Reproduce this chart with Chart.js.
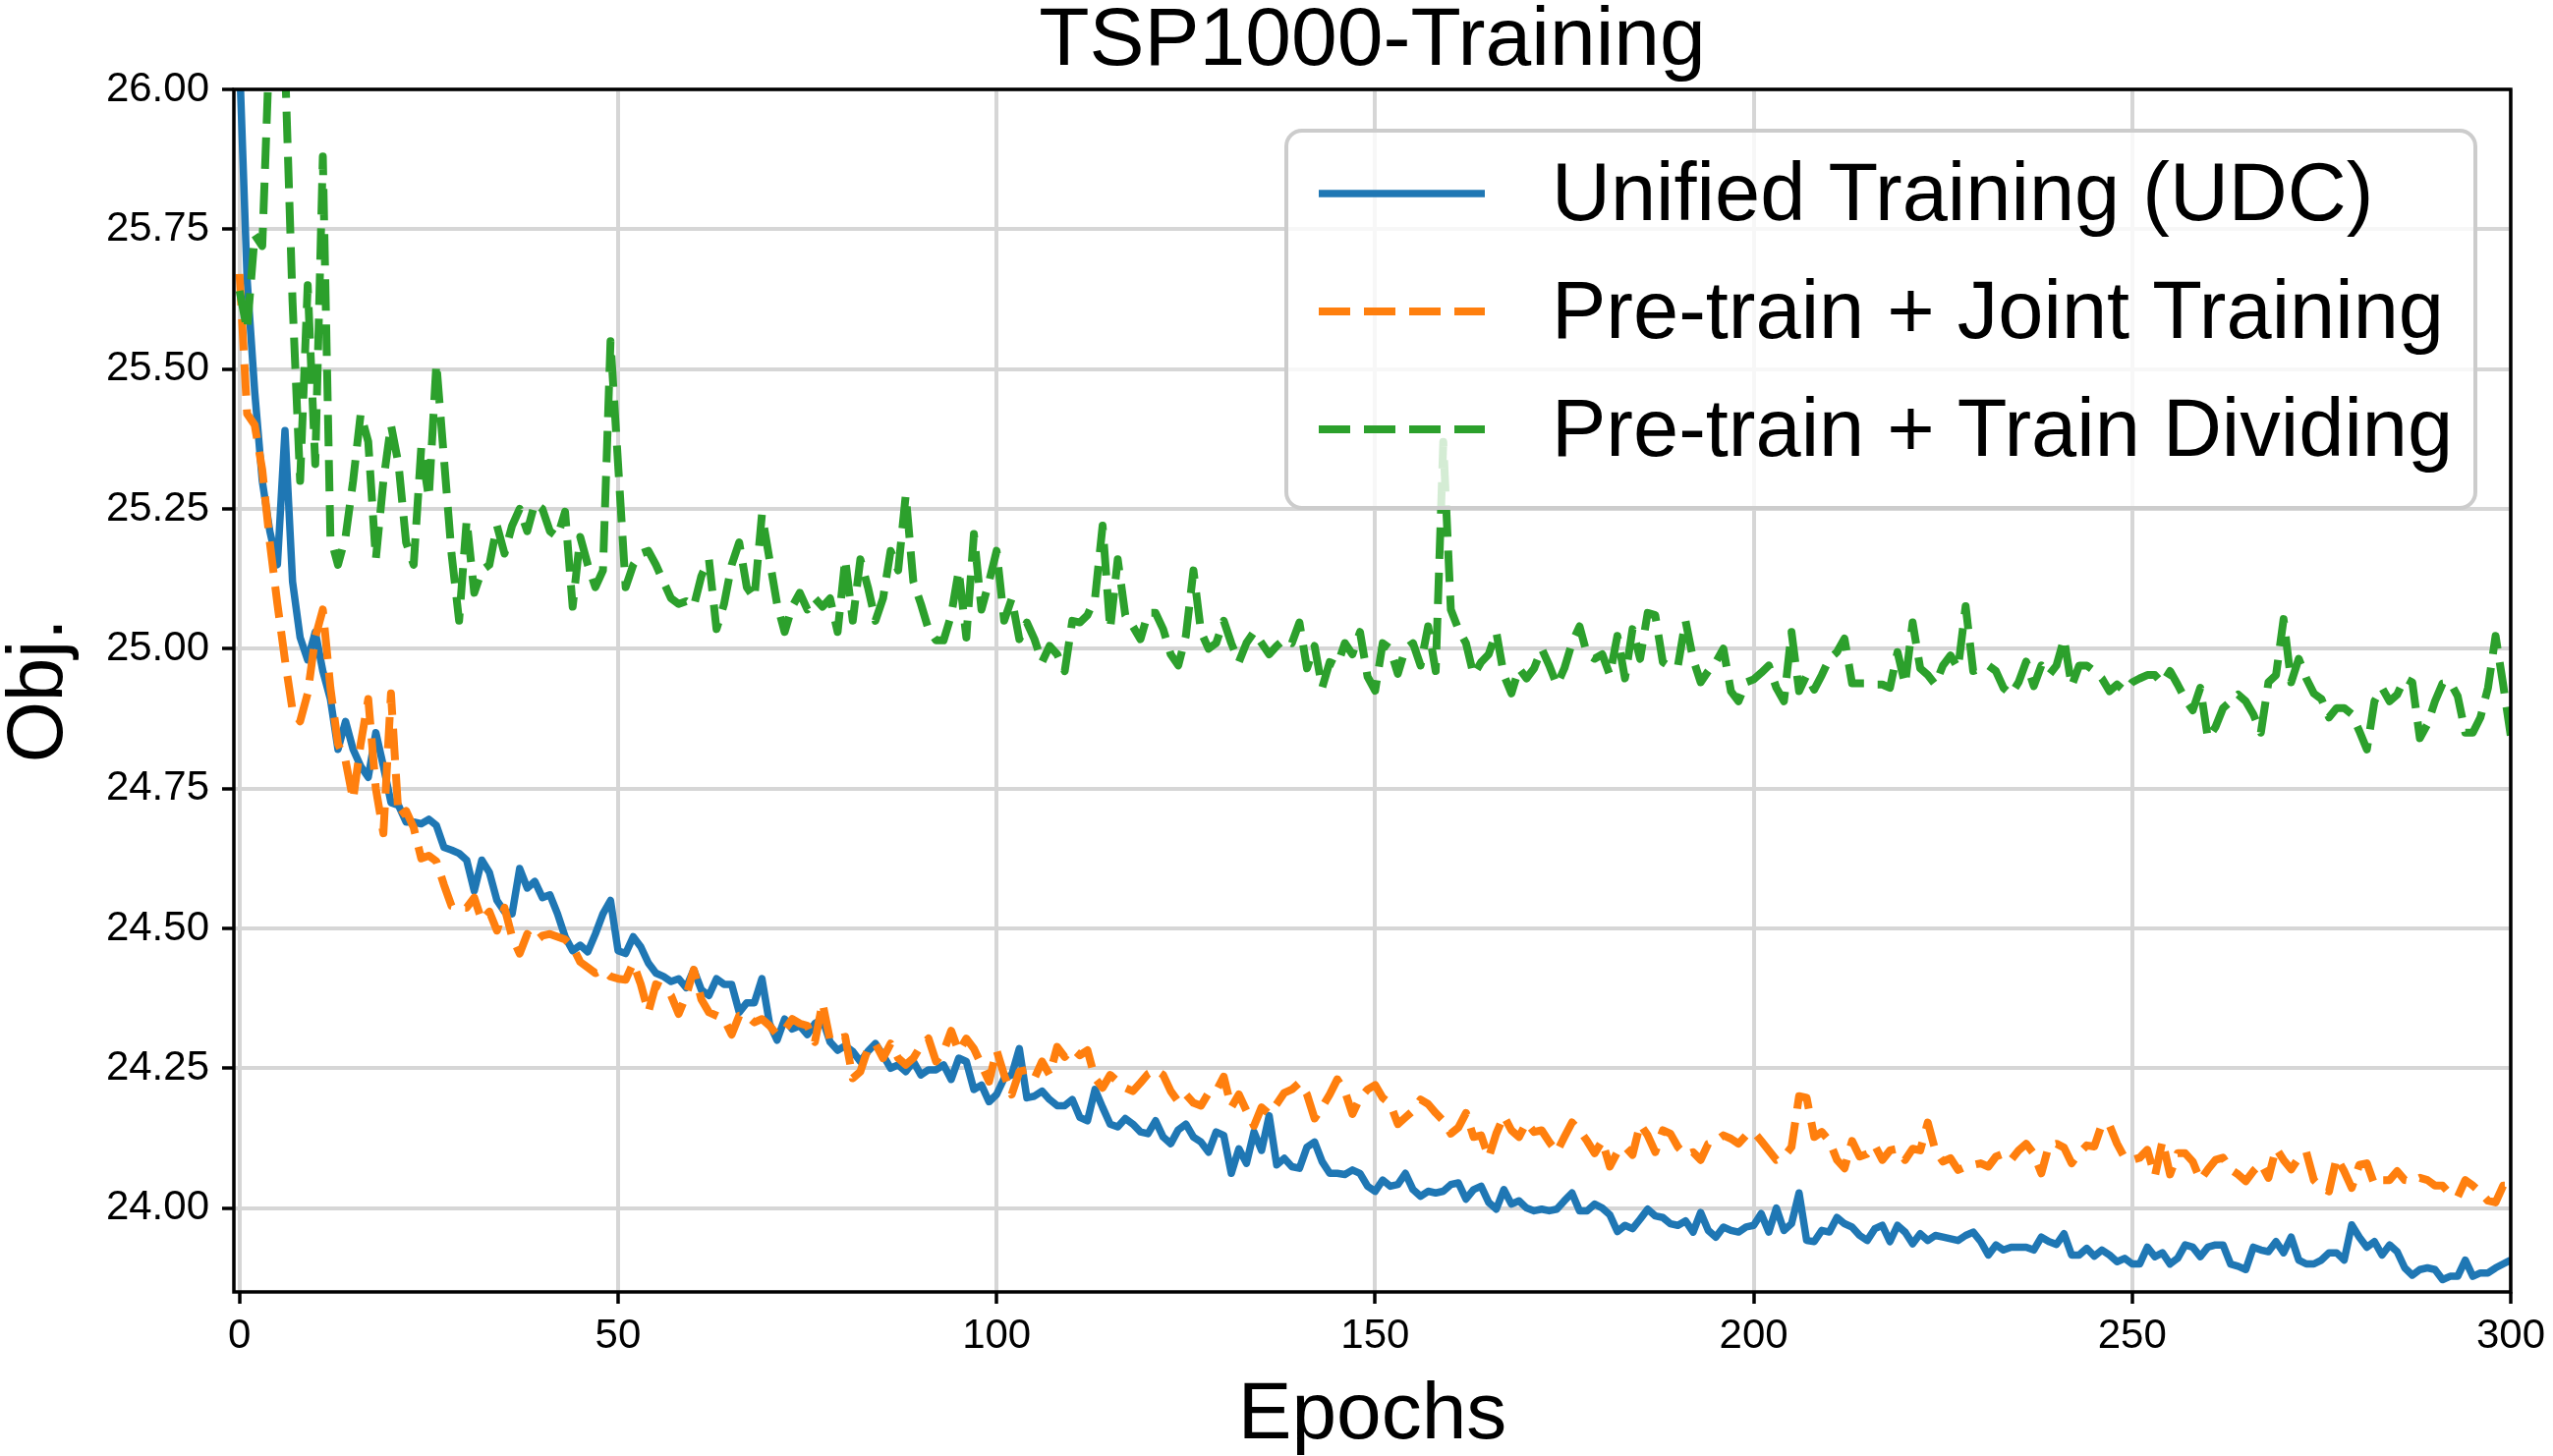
<!DOCTYPE html>
<html>
<head>
<meta charset="utf-8">
<script src="https://cdn.jsdelivr.net/npm/chart.js@4.4.1/dist/chart.umd.min.js"></script>
<style>
  html, body { margin: 0; padding: 0; background: #ffffff; }
</style>
</head>
<body>
<canvas id="lineChart" width="2598" height="1482"></canvas>
<script>
// values, one per epoch (0..300)
const unified = [
  26.05, 25.66, 25.46, 25.30, 25.21, 25.15, 25.39, 25.12, 25.02, 24.98,
  25.03, 24.96, 24.91, 24.82, 24.87, 24.82, 24.79, 24.77, 24.85, 24.79,
  24.725, 24.72, 24.69, 24.69, 24.687, 24.695, 24.684, 24.645, 24.64, 24.634,
  24.622, 24.567, 24.622, 24.60, 24.55, 24.53, 24.526, 24.607, 24.572, 24.584,
  24.555, 24.56, 24.526, 24.485, 24.46, 24.47, 24.458, 24.49, 24.526, 24.55,
  24.46, 24.455, 24.485, 24.467, 24.438, 24.42, 24.414, 24.405, 24.41, 24.394,
  24.426, 24.39, 24.38, 24.41, 24.40, 24.40, 24.35, 24.367, 24.367, 24.41,
  24.33, 24.30, 24.338, 24.32, 24.326, 24.31, 24.33, 24.338, 24.297, 24.282,
  24.29, 24.28, 24.262, 24.28, 24.294, 24.273, 24.25, 24.256, 24.244, 24.262,
  24.238, 24.247, 24.247, 24.256, 24.23, 24.268, 24.262, 24.212, 24.22, 24.19,
  24.203, 24.232, 24.238, 24.285, 24.197, 24.20, 24.209, 24.194, 24.183, 24.183,
  24.194, 24.162, 24.156, 24.212, 24.18, 24.15, 24.145, 24.16, 24.15, 24.136,
  24.133, 24.156, 24.127, 24.115, 24.14, 24.15, 24.127, 24.118, 24.10, 24.136,
  24.13, 24.062, 24.106, 24.08, 24.136, 24.103, 24.165, 24.077, 24.089, 24.074,
  24.071, 24.109, 24.118, 24.083, 24.062, 24.062, 24.06, 24.068, 24.062, 24.039,
  24.03, 24.05, 24.039, 24.042, 24.062, 24.033, 24.021, 24.03, 24.027, 24.03,
  24.042, 24.045, 24.016, 24.033, 24.039, 24.01, 23.998, 24.033, 24.007, 24.013,
  24.0, 23.995, 23.998, 23.995, 23.998, 24.013, 24.027, 23.995, 23.995, 24.007,
  24.0, 23.988, 23.958, 23.969, 23.963, 23.98, 23.998, 23.986, 23.983, 23.972,
  23.969, 23.977, 23.957, 23.992, 23.96, 23.948, 23.966, 23.96, 23.957, 23.966,
  23.969, 23.99, 23.957, 24.0, 23.96, 23.972, 24.027, 23.942, 23.94, 23.96,
  23.957, 23.983, 23.972, 23.966, 23.951, 23.942, 23.963, 23.969, 23.94, 23.969,
  23.957, 23.936, 23.954, 23.942, 23.951, 23.948, 23.945, 23.942, 23.951, 23.957,
  23.94, 23.916, 23.934, 23.925, 23.93, 23.93, 23.93, 23.925, 23.948, 23.94,
  23.935, 23.954, 23.916, 23.916, 23.928, 23.914, 23.925, 23.916, 23.904, 23.91,
  23.90, 23.90, 23.93, 23.913, 23.92, 23.90, 23.91, 23.934, 23.93, 23.913,
  23.93, 23.934, 23.934, 23.90, 23.896, 23.89, 23.93, 23.925, 23.922, 23.94,
  23.92, 23.948, 23.907, 23.90, 23.90, 23.907, 23.92, 23.92, 23.907, 23.97,
  23.948, 23.93, 23.94, 23.916, 23.934, 23.922, 23.893, 23.88, 23.89, 23.893,
  23.89, 23.872, 23.878, 23.878, 23.907, 23.878, 23.884, 23.884, 23.893, 23.90,
  23.907
];

const jointTraining = [
  25.67, 25.42, 25.40, 25.32, 25.19, 25.08, 24.98, 24.89, 24.87, 24.92,
  25.02, 25.07, 24.93, 24.83, 24.80, 24.73, 24.83, 24.91, 24.75, 24.67,
  24.92, 24.70, 24.71, 24.68, 24.625, 24.63, 24.62, 24.578, 24.54, 24.537,
  24.537, 24.555, 24.514, 24.53, 24.496, 24.537, 24.485, 24.455, 24.49, 24.476,
  24.487, 24.49, 24.485, 24.48, 24.467, 24.44, 24.43, 24.42, 24.426, 24.414,
  24.41, 24.408, 24.438, 24.40, 24.35, 24.40, 24.394, 24.38, 24.347, 24.38,
  24.426, 24.373, 24.35, 24.344, 24.338, 24.31, 24.344, 24.344, 24.332, 24.338,
  24.326, 24.31, 24.318, 24.338, 24.33, 24.326, 24.297, 24.367, 24.30, 24.303,
  24.306, 24.232, 24.244, 24.285, 24.294, 24.268, 24.294, 24.268, 24.256, 24.268,
  24.29, 24.303, 24.262, 24.28, 24.317, 24.28, 24.303, 24.285, 24.256, 24.226,
  24.282, 24.238, 24.203, 24.244, 24.247, 24.232, 24.262, 24.238, 24.288, 24.27,
  24.285, 24.273, 24.282, 24.232, 24.215, 24.238, 24.226, 24.215, 24.209, 24.224,
  24.24, 24.247, 24.238, 24.209, 24.19, 24.203, 24.188, 24.183, 24.206, 24.209,
  24.235, 24.18, 24.203, 24.174, 24.147, 24.18, 24.168, 24.186, 24.206, 24.212,
  24.224, 24.203, 24.16, 24.18, 24.203, 24.23, 24.209, 24.168, 24.197, 24.212,
  24.22, 24.197, 24.186, 24.15, 24.162, 24.174, 24.194, 24.186, 24.17, 24.156,
  24.133, 24.144, 24.17, 24.127, 24.13, 24.09, 24.133, 24.165, 24.139, 24.127,
  24.153, 24.136, 24.139, 24.118, 24.10, 24.127, 24.153, 24.139, 24.12, 24.098,
  24.12, 24.074, 24.10, 24.11, 24.095, 24.15, 24.13, 24.10, 24.139, 24.133,
  24.109, 24.095, 24.10, 24.086, 24.115, 24.12, 24.13, 24.124, 24.115, 24.13,
  24.136, 24.12, 24.103, 24.086, 24.092, 24.109, 24.20, 24.197, 24.127, 24.136,
  24.12, 24.086, 24.071, 24.12, 24.092, 24.097, 24.112, 24.086, 24.103, 24.106,
  24.086, 24.106, 24.103, 24.153, 24.103, 24.083, 24.089, 24.068, 24.074, 24.077,
  24.08, 24.074, 24.092, 24.097, 24.086, 24.103, 24.115, 24.097, 24.062, 24.112,
  24.115, 24.108, 24.08, 24.098, 24.112, 24.11, 24.15, 24.148, 24.115, 24.09,
  24.086, 24.09, 24.104, 24.057, 24.12, 24.06, 24.098, 24.098, 24.083, 24.05,
  24.069, 24.086, 24.09, 24.069, 24.06, 24.048, 24.066, 24.08, 24.054, 24.107,
  24.086, 24.069, 24.09, 24.10, 24.05, 24.036, 24.03, 24.09, 24.066, 24.036,
  24.077, 24.08, 24.042, 24.05, 24.05, 24.066, 24.05, 24.048, 24.054, 24.05,
  24.04, 24.04, 24.025, 24.02, 24.05, 24.04, 24.028, 24.013, 24.01, 24.04,
  24.04
];

const trainDividing = [
  25.64, 25.57, 25.74, 25.72, 26.10, 26.15, 26.05, 25.62, 25.30, 25.65,
  25.33, 25.88, 25.20, 25.15, 25.20, 25.30, 25.42, 25.37, 25.16, 25.30,
  25.40, 25.33, 25.19, 25.15, 25.36, 25.27, 25.51, 25.34, 25.17, 25.05,
  25.23, 25.10, 25.14, 25.15, 25.22, 25.17, 25.22, 25.25, 25.21, 25.26,
  25.25, 25.21, 25.20, 25.245, 25.075, 25.20, 25.15, 25.11, 25.14, 25.55,
  25.33, 25.11, 25.15, 25.17, 25.175, 25.15, 25.12, 25.09, 25.08, 25.085,
  25.076, 25.13, 25.16, 25.035, 25.08, 25.15, 25.19, 25.11, 25.09, 25.24,
  25.16, 25.08, 25.03, 25.075, 25.10, 25.07, 25.09, 25.075, 25.09, 25.03,
  25.16, 25.05, 25.16, 25.11, 25.05, 25.09, 25.175, 25.14, 25.275, 25.12,
  25.08, 25.035, 25.015, 25.015, 25.06, 25.14, 25.02, 25.205, 25.07, 25.12,
  25.175, 25.05, 25.09, 25.017, 25.047, 25.017, 24.976, 25.005, 24.99, 24.96,
  25.05, 25.047, 25.06, 25.09, 25.22, 25.035, 25.16, 25.06, 25.04, 25.017,
  25.064, 25.064, 25.035, 24.99, 24.97, 25.023, 25.14, 25.03, 25.0, 25.01,
  25.05, 25.01, 24.976, 25.01, 25.03, 25.01, 24.99, 25.005, 25.017, 25.01,
  25.047, 24.965, 25.005, 24.93, 24.976, 24.97, 25.01, 24.99, 25.03, 24.95,
  24.925, 25.01, 25.0, 24.955, 25.0, 25.01, 24.97, 25.04, 24.96, 25.37,
  25.07, 25.035, 25.01, 24.953, 24.976, 24.99, 25.03, 24.953, 24.92, 24.965,
  24.947, 24.965, 25.0, 24.97, 24.935, 24.965, 25.01, 25.04, 24.99, 24.982,
  24.99, 24.953, 25.023, 24.947, 25.035, 24.982, 25.064, 25.06, 24.976, 24.967,
  24.97, 25.05, 24.982, 24.94, 24.96, 24.976, 25.0, 24.924, 24.906, 24.94,
  24.945, 24.957, 24.97, 24.93, 24.906, 25.03, 24.924, 24.953, 24.927, 24.953,
  24.982, 24.994, 25.018, 24.938, 24.938, 24.938, 24.936, 24.936, 24.93, 24.994,
  24.936, 25.047, 24.965, 24.953, 24.936, 24.97, 24.988, 24.965, 25.076, 24.96,
  24.965, 24.97, 24.96, 24.93, 24.918, 24.94, 24.977, 24.933, 24.97, 24.953,
  24.97, 25.018, 24.933, 24.97, 24.97, 24.96, 24.947, 24.924, 24.936, 24.924,
  24.94, 24.947, 24.953, 24.953, 24.938, 24.96, 24.936, 24.91, 24.89, 24.93,
  24.84, 24.86, 24.894, 24.906, 24.918, 24.906, 24.883, 24.85, 24.94, 24.953,
  25.053, 24.94, 24.982, 24.947, 24.92, 24.91, 24.877, 24.894, 24.894, 24.883,
  24.853, 24.82, 24.906, 24.93, 24.906, 24.918, 24.947, 24.94, 24.84, 24.865,
  24.906, 24.938, 24.94, 24.915, 24.85, 24.85, 24.877, 24.93, 25.023, 24.936,
  24.845
];

const seriesNames = ["Unified Training (UDC)", "Pre-train + Joint Training", "Pre-train + Train Dividing"];
const xTicks = [0, 50, 100, 150, 200, 250, 300];
const yTicks = [24.00, 24.25, 24.50, 24.75, 25.00, 25.25, 25.50, 25.75, 26.00];

const FONT = '"Liberation Sans", Arial, sans-serif';
const epochs = unified.map((_, i) => i);
const toPoints = (vals) => vals.map((v, i) => ({ x: epochs[i], y: v }));

// spines on all four sides + legend box drawn over the lines (matplotlib style)
const frameAndLegend = {
    id: "frameAndLegend",
    afterDatasetsDraw(chart) {
        const { ctx, chartArea: a } = chart;
        ctx.save();
        ctx.strokeStyle = "#000";
        ctx.lineWidth = 3.5;
        ctx.strokeRect(a.left, a.top, a.right - a.left, a.bottom - a.top);

        const bx = 1309, by = 133, bw = 1210, bh = 384;
        ctx.beginPath();
        ctx.roundRect(bx, by, bw, bh, 16);
        ctx.fillStyle = "rgba(255,255,255,0.8)";
        ctx.fill();
        ctx.strokeStyle = "#cccccc";
        ctx.lineWidth = 4;
        ctx.stroke();

        chart.data.datasets.forEach((ds, i) => {
            const y = 197 + i * 120;
            ctx.beginPath();
            ctx.setLineDash(ds.borderDash || []);
            ctx.strokeStyle = ds.borderColor;
            ctx.lineWidth = ds.borderWidth;
            ctx.lineCap = "butt";
            ctx.moveTo(1342, y);
            ctx.lineTo(1511, y);
            ctx.stroke();
            ctx.setLineDash([]);
            ctx.fillStyle = "#000";
            ctx.font = "83px " + FONT;
            ctx.textBaseline = "middle";
            ctx.textAlign = "left";
            ctx.fillText(ds.label, 1579, y + 4);
        });
        ctx.restore();
    }
};

const ctx = document.getElementById("lineChart").getContext("2d");

const data = {
    datasets: [
        {
            label: seriesNames[0],
            data: toPoints(unified),
            borderColor: "#1f77b4",
            borderWidth: 7.5,
            order: 3
        },
        {
            label: seriesNames[1],
            data: toPoints(jointTraining),
            borderColor: "#ff7f0e",
            borderWidth: 8,
            borderDash: [32, 14],
            order: 2
        },
        {
            label: seriesNames[2],
            data: toPoints(trainDividing),
            borderColor: "#2ca02c",
            borderWidth: 8,
            borderDash: [32, 14],
            order: 1
        }
    ]
};

const options = {
    responsive: false,
    animation: false,
    devicePixelRatio: 1,
    events: [],
    layout: { padding: { left: 0, right: 38, top: 0, bottom: 0 } },
    elements: {
        point: { radius: 0 },
        line: { tension: 0, fill: false, borderJoinStyle: "round", borderCapStyle: "butt" }
    },
    datasets: { line: { clip: 0 } },
    plugins: {
        legend: { display: false },
        tooltip: { enabled: false },
        title: {
            display: true,
            fullSize: false,
            text: "TSP1000-Training",
            color: "#000",
            font: { family: FONT, size: 84, weight: "normal", lineHeight: 1 },
            padding: { top: 1, bottom: 6 }
        }
    },
    scales: {
        x: {
            type: "linear",
            min: -0.75,
            max: 300,
            afterFit: (scale) => { scale.height = 167; },
            afterBuildTicks: (axis) => { axis.ticks = xTicks.map(v => ({ value: v })); },
            grid: { color: "#d6d6d6", lineWidth: 4, tickColor: "#000", tickWidth: 3.5, tickLength: 12 },
            border: { display: false },
            ticks: {
                color: "#000",
                font: { family: FONT, size: 42 },
                padding: 8,
                maxRotation: 0,
                autoSkip: false,
                callback: (v) => String(v)
            },
            title: {
                display: true,
                text: "Epochs",
                color: "#000",
                font: { family: FONT, size: 82, lineHeight: 1 },
                padding: { top: 16, bottom: 0 }
            }
        },
        y: {
            type: "linear",
            min: 23.85,
            max: 26.0,
            afterFit: (scale) => { scale.width = 238; },
            afterBuildTicks: (axis) => { axis.ticks = yTicks.map(v => ({ value: v })); },
            grid: { color: "#d6d6d6", lineWidth: 4, tickColor: "#000", tickWidth: 3.5, tickLength: 12 },
            border: { display: false },
            ticks: {
                color: "#000",
                font: { family: FONT, size: 42 },
                padding: 13,
                autoSkip: false,
                callback: (v) => v.toFixed(2)
            },
            title: {
                display: true,
                text: "Obj.",
                color: "#000",
                font: { family: FONT, size: 80, lineHeight: 1 },
                padding: { top: 1, bottom: 0 }
            }
        }
    }
};

new Chart(ctx, {
    type: "line",
    data: data,
    options: options,
    plugins: [frameAndLegend]
});
</script>
</body>
</html>
